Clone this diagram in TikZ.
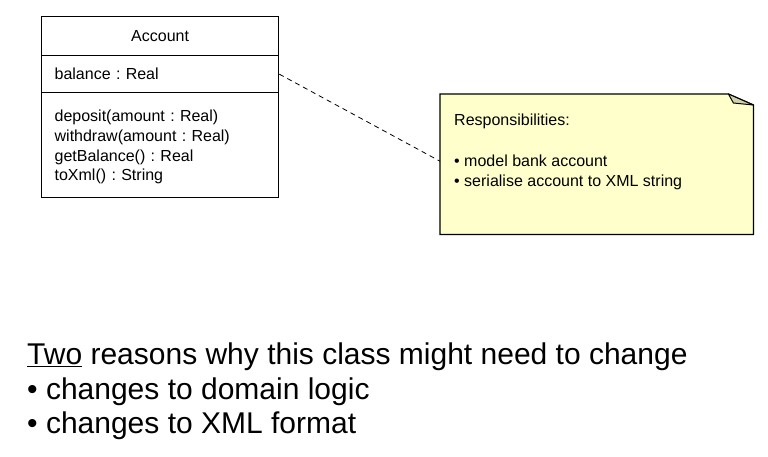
\documentclass[tikz,border=0pt]{standalone}
\usepackage{fontspec}
\setmainfont{Liberation Sans}
\usepackage{xcolor}
\usetikzlibrary{
	positioning
}
\frenchspacing

\definecolor{noteyellow}{HTML}{FFFFCC}
\definecolor{notefold}{HTML}{D2D2AA}

\begin{document}
\begin{tikzpicture}[x=1pt, y=-1pt,
		classpart/.style={draw, line width=1.3pt, anchor=north west, minimum width=\classw pt,
			inner xsep=13pt, inner ysep=0pt, text width=\classw pt-26pt,
			font=\fontsize{16}{19.7}\selectfont},
		notetext/.style={anchor=north west, inner sep=0pt, align=left,
			font=\fontsize{16}{20.3}\selectfont}]
				\def\classw{237}
				\def\notew{313}
				\def\noteh{140}
				\def\fold{25}

				\useasboundingbox (0, 0) rectangle (768, 457) ;

				% class box
				\node[classpart, align=center, minimum height=39pt] (cname) at (41, 16) {Account} ;
				\node[classpart, align=left, minimum height=37pt] (cattr) at (41, 55) {balance : Real} ;
				\node[classpart, align=left, minimum height=105pt] (cops) at (41, 92)
					{\rule{0pt}{15.5pt}deposit(amount : Real)\\withdraw(amount : Real)\\getBalance() : Real\\toXml() : String} ;

				% note
				\node[anchor=north west, minimum width=\notew pt, minimum height=\noteh pt, inner sep=0pt] (note) at (440, 94) {} ;
				\filldraw[fill=noteyellow, line width=1.3pt] (note.north west) -- ([xshift=-\fold pt]note.north east)
					-- ([yshift=-11pt]note.north east) -- (note.south east) -- (note.south west) -- cycle ;
				\filldraw[fill=notefold, line width=1pt, line join=round] ([xshift=-\fold pt]note.north east)
					-- ([xshift=-20pt, yshift=-9pt]note.north east) -- ([yshift=-11pt]note.north east) -- cycle ;
				\node[notetext] (resp) at (454, 114)
					{Responsibilities:\\[20.3pt]• model bank account\\• serialise account to XML string} ;

				\draw[line width=0.8pt, dash pattern=on 5pt off 4pt] (cattr.east) -- ([yshift=3pt]note.west) ;

				% reasons
				\node[anchor=north west, inner sep=0pt, align=left, font=\fontsize{30}{34.5}\selectfont] (reasons) at (27, 343)
					{\underline{Two} reasons why this class might need to change\\• changes to domain logic\\• changes to XML format} ;
			\end{tikzpicture}
\end{document}
